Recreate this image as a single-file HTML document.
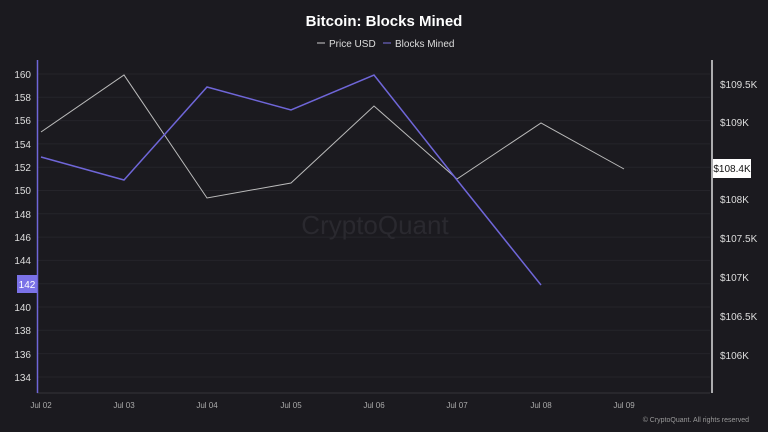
<!DOCTYPE html>
<html><head><meta charset="utf-8"><style>
body{margin:0;background:#1b1a1f;}
svg{display:block;font-family:"Liberation Sans",sans-serif;}
</style></head><body>
<svg width="768" height="432" viewBox="0 0 768 432">
<rect width="768" height="432" fill="#1b1a1f"/>
<text x="384" y="26" text-anchor="middle" fill="#fff" font-size="15" font-weight="bold">Bitcoin: Blocks Mined</text>
<line x1="317" y1="43" x2="325" y2="43" stroke="#ccc"/>
<text x="329" y="47" fill="#ddd" font-size="10">Price USD</text>
<line x1="383" y1="43" x2="391" y2="43" stroke="#7b72e0"/>
<text x="395" y="47" fill="#ddd" font-size="10">Blocks Mined</text>
<g stroke="#25242a" stroke-width="1">
<line x1="37" x2="710" y1="74" y2="74"/><line x1="37" x2="710" y1="97.3" y2="97.3"/><line x1="37" x2="710" y1="120.6" y2="120.6"/><line x1="37" x2="710" y1="143.9" y2="143.9"/><line x1="37" x2="710" y1="167.2" y2="167.2"/><line x1="37" x2="710" y1="190.5" y2="190.5"/><line x1="37" x2="710" y1="213.8" y2="213.8"/><line x1="37" x2="710" y1="237.1" y2="237.1"/><line x1="37" x2="710" y1="260.4" y2="260.4"/><line x1="37" x2="710" y1="283.7" y2="283.7"/><line x1="37" x2="710" y1="307" y2="307"/><line x1="37" x2="710" y1="330.3" y2="330.3"/><line x1="37" x2="710" y1="353.6" y2="353.6"/><line x1="37" x2="710" y1="377" y2="377"/>
<line x1="37" x2="710" y1="393" y2="393" stroke="#35343a"/>
</g>
<text x="375" y="234" text-anchor="middle" fill="#2a292f" font-size="26">CryptoQuant</text>
<line x1="37.5" y1="60" x2="37.5" y2="393" stroke="#6f66d8" stroke-width="1.5"/>
<line x1="712" y1="60" x2="712" y2="393" stroke="#ddd" stroke-width="1.5"/>
<g fill="#ddd" font-size="10" text-anchor="end">
<text x="31" y="78">160</text><text x="31" y="101">158</text><text x="31" y="124">156</text><text x="31" y="148">154</text><text x="31" y="171">152</text><text x="31" y="194">150</text><text x="31" y="218">148</text><text x="31" y="241">146</text><text x="31" y="264">144</text><text x="31" y="311">140</text><text x="31" y="334">138</text><text x="31" y="358">136</text><text x="31" y="381">134</text>
</g>
<rect x="17" y="275" width="20" height="18" fill="#7b72e8"/>
<text x="27" y="288" text-anchor="middle" fill="#fff" font-size="10">142</text>
<g fill="#ddd" font-size="10">
<text x="720" y="88">$109.5K</text><text x="720" y="126">$109K</text><text x="720" y="203">$108K</text><text x="720" y="242">$107.5K</text><text x="720" y="281">$107K</text><text x="720" y="320">$106.5K</text><text x="720" y="359">$106K</text>
</g>
<rect x="713" y="159" width="38" height="19" fill="#fff"/>
<text x="732" y="172" text-anchor="middle" fill="#111" font-size="10">$108.4K</text>
<g fill="#aaa" font-size="8" text-anchor="middle">
<text x="41" y="408">Jul 02</text><text x="124" y="408">Jul 03</text><text x="207" y="408">Jul 04</text><text x="291" y="408">Jul 05</text><text x="374" y="408">Jul 06</text><text x="457" y="408">Jul 07</text><text x="541" y="408">Jul 08</text><text x="624" y="408">Jul 09</text>
</g>
<text x="749" y="422" text-anchor="end" fill="#999" font-size="7">© CryptoQuant. All rights reserved</text>
<polyline fill="none" stroke="#bbb" stroke-width="1" points="41,132 124,75 207,198 291,183 374,106 457,179 541,123 624,169"/>
<polyline fill="none" stroke="#6f66d8" stroke-width="1.5" points="41,157 124,180 207,87 291,110 374,75 457,180 541,285"/>
</svg>
</body></html>
